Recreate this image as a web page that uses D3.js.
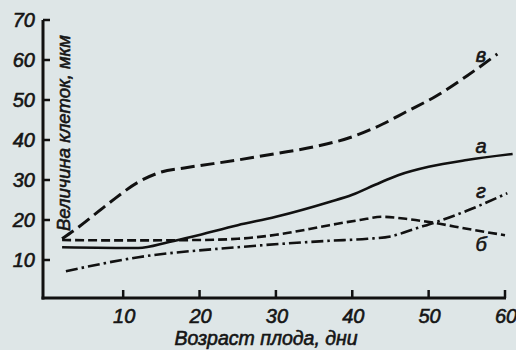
<!DOCTYPE html>
<html lang="ru">
<head>
<meta charset="UTF-8">
<title>Величина клеток</title>
<script src="https://d3js.org/d3.v7.min.js"></script>
<style>
  body { margin: 0; background: #dee6e7; }
  svg { display: block; }
  text { font-family: "Liberation Sans", Arial, sans-serif; font-style: italic; fill: #151515; stroke: #151515; stroke-width: 0.6px; }
</style>
</head>
<body>
<svg width="516" height="350"></svg>
<script>
// возраст плода (дни) и величина клеток (мкм) по кривым
var daysV = [2, 4, 8, 12, 15, 18, 25, 30, 35, 40, 44, 47, 51, 55, 59];
var valsV = [15.3, 18, 24, 29.5, 32, 33, 35, 36.6, 38.3, 40.8, 44, 47, 51, 56, 61.5];

var daysA = [2, 12, 16, 19, 25, 30, 37, 40, 43, 46, 50, 55, 61];
var valsA = [13.2, 13, 14.5, 15.8, 18.7, 20.8, 24.5, 26.3, 28.8, 31.2, 33.3, 35, 36.5];

var daysB = [2, 10, 20, 25, 30, 37, 41, 44, 47, 51, 55, 60];
var valsB = [15, 14.9, 15, 15.3, 16.3, 18.7, 20, 20.8, 20.3, 19.2, 17.8, 16.2];

var daysG = [2.5, 12, 25, 37, 42, 45, 48.5, 51, 55, 60.3];
var valsG = [7.2, 10.7, 13.2, 14.8, 15.3, 15.9, 18, 19.5, 22.3, 26.7];

var xTicks = [10, 20, 30, 40, 50, 60];
var yTicks = [10, 20, 30, 40, 50, 60, 70];

var svg = d3.select('svg');

var x = d3.scaleLinear().domain([-0.5, 60]).range([43, 505]);
var y = d3.scaleLinear().domain([0.5, 70]).range([298, 20]);

var g = svg.append('g');

// оси
g.append('line')
  .attr('x1', x(-0.5)).attr('x2', x(-0.5))
  .attr('y1', y(70)).attr('y2', y(0.5) + 1.5)
  .attr('stroke', '#111').attr('stroke-width', 3);
g.append('line')
  .attr('x1', x(-0.5) - 1.5).attr('x2', x(60) + 1)
  .attr('y1', y(0.5)).attr('y2', y(0.5))
  .attr('stroke', '#111').attr('stroke-width', 3);

g.selectAll('.ytick').data(yTicks).join('line')
  .attr('class', 'ytick')
  .attr('x1', x(-0.5)).attr('x2', x(-0.5) + 7)
  .attr('y1', d => y(d)).attr('y2', d => y(d))
  .attr('stroke', '#111').attr('stroke-width', 2.5);

g.selectAll('.xtick').data(xTicks).join('line')
  .attr('class', 'xtick')
  .attr('x1', d => x(d)).attr('x2', d => x(d))
  .attr('y1', y(0.5)).attr('y2', y(0.5) - 8)
  .attr('stroke', '#111').attr('stroke-width', 2.5);

g.selectAll('.ylab').data(yTicks).join('text')
  .attr('class', 'ylab')
  .attr('x', 35).attr('y', d => y(d) + 7)
  .attr('text-anchor', 'end')
  .attr('font-size', 20)
  .text(d => d);

g.selectAll('.xlab').data(xTicks).join('text')
  .attr('class', 'xlab')
  .attr('x', d => x(d) + 1).attr('y', 323)
  .attr('text-anchor', 'middle')
  .attr('font-size', 20)
  .text(d => d);

// подписи осей
svg.append('text')
  .attr('x', 266).attr('y', 345)
  .attr('text-anchor', 'middle')
  .attr('font-size', 19.5)
  .text('Возраст плода, дни');

svg.append('text')
  .attr('transform', 'translate(70,133) rotate(-90)')
  .attr('text-anchor', 'middle')
  .attr('font-size', 18.5)
  .text('Величина клеток, мкм');

// кривые
var line = d3.line()
  .x(d => x(d[0]))
  .y(d => y(d[1]))
  .curve(d3.curveMonotoneX);

var curves = [
  { days: daysV, vals: valsV, dash: '14,6', w: 3 },
  { days: daysA, vals: valsA, dash: null, w: 2.6 },
  { days: daysB, vals: valsB, dash: '9,4', w: 2.6 },
  { days: daysG, vals: valsG, dash: '12,4,2.5,4', w: 2.6 }
];

g.selectAll('.curve').data(curves).join('path')
  .attr('class', 'curve')
  .attr('fill', 'none')
  .attr('stroke', '#111')
  .attr('stroke-width', d => d.w)
  .attr('stroke-dasharray', d => d.dash)
  .attr('d', d => line(d.days.map((v, i) => [v, d.vals[i]])));

// обозначения кривых
var labels = ['в', 'а', 'г', 'б'];
var labelY = [62, 153, 198, 251];
svg.selectAll('.clab').data(labels).join('text')
  .attr('class', 'clab')
  .attr('x', 481).attr('y', (d, i) => labelY[i])
  .attr('text-anchor', 'middle')
  .attr('font-size', 20)
  .text(d => d);
</script>
</body>
</html>
